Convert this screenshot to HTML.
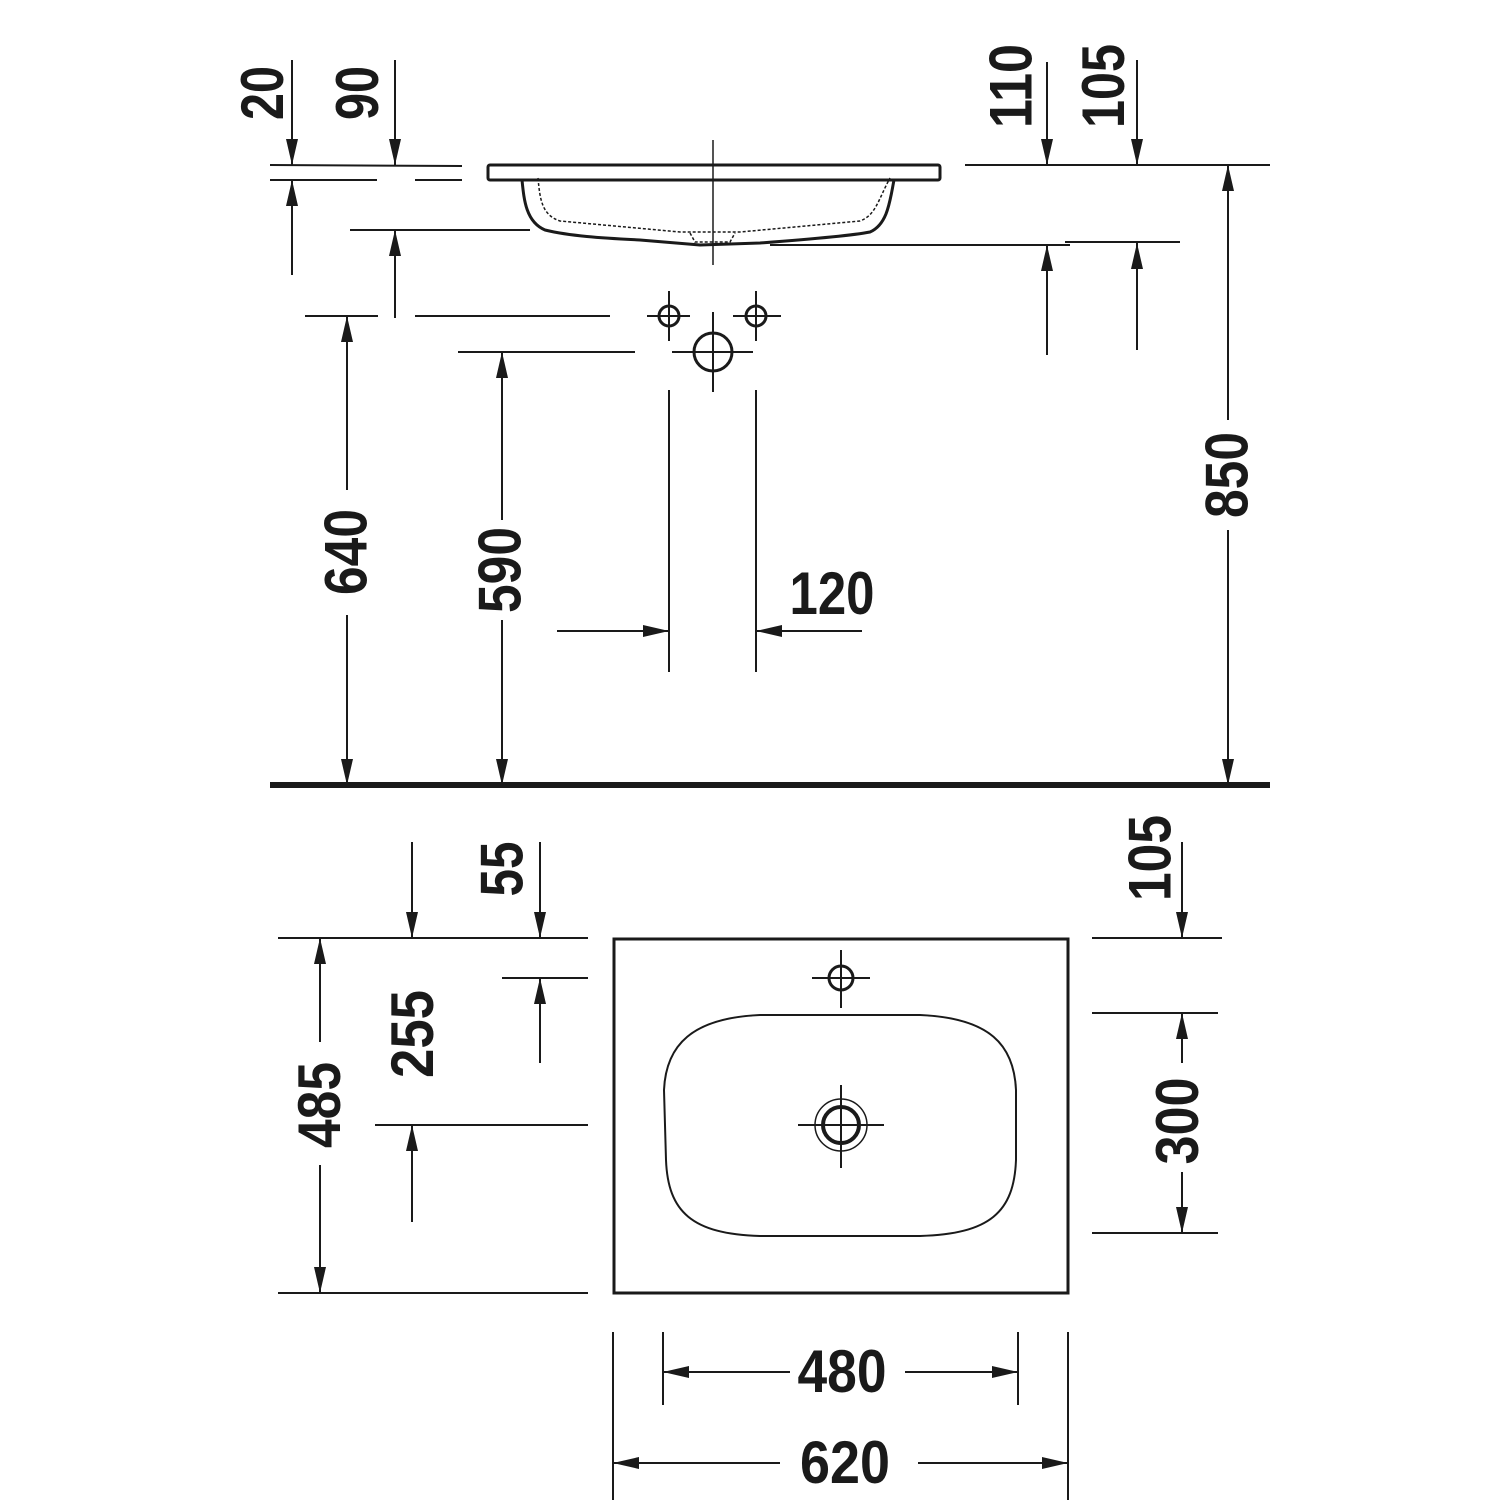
<!DOCTYPE html>
<html><head><meta charset="utf-8"><style>html,body{margin:0;padding:0;background:#fff}svg{display:block}</style></head><body>
<svg width="1500" height="1500" viewBox="0 0 1500 1500" xmlns="http://www.w3.org/2000/svg">
<defs>
<marker id="a" viewBox="0 0 26 12" refX="26" refY="6" markerWidth="26" markerHeight="12" markerUnits="userSpaceOnUse" orient="auto"><path d="M0,0 L26,6 L0,12 Z" fill="#1a1a1a"/></marker>
</defs>
<g stroke="#1a1a1a" stroke-width="2" fill="none">
<!-- top view sink -->
<rect x="488" y="165" width="452" height="15" rx="2" stroke-width="3"/>
<path d="M522 180 C524 200 526 222 545 230 C570 236 600 238 640 240 L700 245 L760 243 C800 240 850 236 870 232 C888 224 890 200 894 180" stroke-width="3"/>
<path d="M538 178 C540 200 542 215 560 221 L680 232 L740 232 L860 221 C876 215 878 200 890 178" stroke-width="1.5" stroke-dasharray="3,2"/>
<path d="M690 233 L695 242 L730 242 L735 233" stroke-width="1.5" stroke-dasharray="3,2"/>
<line x1="713" y1="140" x2="713" y2="265" stroke-width="1.5"/>
<!-- extension lines top -->
<line x1="270" y1="165" x2="462" y2="166"/>
<line x1="270" y1="180" x2="377" y2="180"/>
<line x1="415" y1="180" x2="462" y2="180"/>
<line x1="350" y1="230" x2="530" y2="230"/>
<line x1="965" y1="165" x2="1270" y2="165"/>
<line x1="770" y1="245" x2="1070" y2="245"/>
<line x1="1065" y1="242" x2="1180" y2="242"/>
<line x1="305" y1="316" x2="378" y2="316"/>
<line x1="415" y1="316" x2="610" y2="316"/>
<line x1="458" y1="352" x2="635" y2="352"/>
<!-- arrows top -->
<line x1="292" y1="60" x2="292" y2="165" marker-end="url(#a)"/>
<line x1="292" y1="275" x2="292" y2="180" marker-end="url(#a)"/>
<line x1="395" y1="60" x2="395" y2="165" marker-end="url(#a)"/>
<line x1="395" y1="318" x2="395" y2="230" marker-end="url(#a)"/>
<line x1="1047" y1="62" x2="1047" y2="165" marker-end="url(#a)"/>
<line x1="1047" y1="355" x2="1047" y2="245" marker-end="url(#a)"/>
<line x1="1137" y1="60" x2="1137" y2="165" marker-end="url(#a)"/>
<line x1="1137" y1="350" x2="1137" y2="243" marker-end="url(#a)"/>
<!-- taps -->
<circle cx="669" cy="316" r="10" stroke-width="3"/>
<line x1="647" y1="316" x2="690" y2="316"/><line x1="669" y1="291" x2="669" y2="341"/>
<circle cx="756" cy="316" r="10" stroke-width="3"/>
<line x1="733" y1="316" x2="781" y2="316"/><line x1="756" y1="291" x2="756" y2="341"/>
<circle cx="713" cy="352" r="19" stroke-width="3"/>
<line x1="672" y1="352" x2="753" y2="352"/><line x1="713" y1="312" x2="713" y2="392"/>
<!-- 640/590/850 -->
<line x1="347" y1="490" x2="347" y2="316" marker-end="url(#a)"/>
<line x1="347" y1="615" x2="347" y2="785" marker-end="url(#a)"/>
<line x1="502" y1="520" x2="502" y2="352" marker-end="url(#a)"/>
<line x1="502" y1="620" x2="502" y2="785" marker-end="url(#a)"/>
<line x1="1228" y1="420" x2="1228" y2="165" marker-end="url(#a)"/>
<line x1="1228" y1="530" x2="1228" y2="785" marker-end="url(#a)"/>
<!-- 120 -->
<line x1="669" y1="390" x2="669" y2="672"/>
<line x1="756" y1="390" x2="756" y2="672"/>
<line x1="557" y1="631" x2="669" y2="631" marker-end="url(#a)"/>
<line x1="862" y1="631" x2="756" y2="631" marker-end="url(#a)"/>
<line x1="270" y1="785" x2="1270" y2="785" stroke-width="6"/>
<!-- bottom view -->
<rect x="614" y="939" width="454" height="354" stroke-width="3"/>
<path d="M760 1015 L920 1015 C990 1018 1014 1045 1016 1090 L1016 1160 C1014 1212 990 1234 920 1236 L760 1236 C692 1234 668 1212 666 1160 L664 1090 C666 1045 692 1018 760 1015 Z" stroke-width="2"/>
<circle cx="841" cy="978" r="12" stroke-width="3"/>
<line x1="812" y1="978" x2="870" y2="978"/><line x1="841" y1="950" x2="841" y2="1008"/>
<circle cx="841" cy="1125" r="26" stroke-width="1.5"/>
<circle cx="841" cy="1125" r="18" stroke-width="4"/>
<line x1="798" y1="1125" x2="884" y2="1125"/><line x1="841" y1="1085" x2="841" y2="1168"/>
<line x1="278" y1="938" x2="588" y2="938"/>
<line x1="502" y1="978" x2="588" y2="978"/>
<line x1="375" y1="1125" x2="588" y2="1125"/>
<line x1="278" y1="1293" x2="588" y2="1293"/>
<line x1="320" y1="1042" x2="320" y2="938" marker-end="url(#a)"/>
<line x1="320" y1="1165" x2="320" y2="1293" marker-end="url(#a)"/>
<line x1="412" y1="842" x2="412" y2="938" marker-end="url(#a)"/>
<line x1="412" y1="1222" x2="412" y2="1125" marker-end="url(#a)"/>
<line x1="540" y1="842" x2="540" y2="938" marker-end="url(#a)"/>
<line x1="540" y1="1063" x2="540" y2="978" marker-end="url(#a)"/>
<line x1="1092" y1="938" x2="1222" y2="938"/>
<line x1="1092" y1="1013" x2="1218" y2="1013"/>
<line x1="1092" y1="1233" x2="1218" y2="1233"/>
<line x1="1182" y1="842" x2="1182" y2="938" marker-end="url(#a)"/>
<line x1="1182" y1="1063" x2="1182" y2="1013" marker-end="url(#a)"/>
<line x1="1182" y1="1172" x2="1182" y2="1233" marker-end="url(#a)"/>
<line x1="663" y1="1332" x2="663" y2="1405"/>
<line x1="1018" y1="1332" x2="1018" y2="1405"/>
<line x1="613" y1="1332" x2="613" y2="1500"/>
<line x1="1068" y1="1332" x2="1068" y2="1500"/>
<line x1="790" y1="1372" x2="663" y2="1372" marker-end="url(#a)"/>
<line x1="905" y1="1372" x2="1018" y2="1372" marker-end="url(#a)"/>
<line x1="780" y1="1463" x2="613" y2="1463" marker-end="url(#a)"/>
<line x1="918" y1="1463" x2="1068" y2="1463" marker-end="url(#a)"/>
</g>
<g fill="#1a1a1a" font-family="'Liberation Sans Narrow','Liberation Sans',sans-serif" font-weight="bold" font-size="60" text-anchor="middle">
<text transform="translate(261.5,93) rotate(-90)" y="21.5" textLength="54" lengthAdjust="spacingAndGlyphs">20</text>
<text transform="translate(356.5,93) rotate(-90)" y="21.5" textLength="54" lengthAdjust="spacingAndGlyphs">90</text>
<text transform="translate(1010,86) rotate(-90)" y="21.5" textLength="84" lengthAdjust="spacingAndGlyphs">110</text>
<text transform="translate(1102.5,86) rotate(-90)" y="21.5" textLength="84" lengthAdjust="spacingAndGlyphs">105</text>
<text transform="translate(1226,475) rotate(-90)" y="21.5" textLength="86" lengthAdjust="spacingAndGlyphs">850</text>
<text transform="translate(345,552) rotate(-90)" y="21.5" textLength="86" lengthAdjust="spacingAndGlyphs">640</text>
<text transform="translate(499,570) rotate(-90)" y="21.5" textLength="86" lengthAdjust="spacingAndGlyphs">590</text>
<text transform="translate(501,869) rotate(-90)" y="21.5" textLength="55" lengthAdjust="spacingAndGlyphs">55</text>
<text transform="translate(1149,858) rotate(-90)" y="21.5" textLength="86" lengthAdjust="spacingAndGlyphs">105</text>
<text transform="translate(411.5,1034) rotate(-90)" y="21.5" textLength="88" lengthAdjust="spacingAndGlyphs">255</text>
<text transform="translate(318.5,1105) rotate(-90)" y="21.5" textLength="86" lengthAdjust="spacingAndGlyphs">485</text>
<text transform="translate(1176.5,1121) rotate(-90)" y="21.5" textLength="87" lengthAdjust="spacingAndGlyphs">300</text>
<text x="832" y="614" textLength="85" lengthAdjust="spacingAndGlyphs">120</text>
<text x="842" y="1392" textLength="89" lengthAdjust="spacingAndGlyphs">480</text>
<text x="845" y="1483" textLength="90" lengthAdjust="spacingAndGlyphs">620</text>
</g>
</svg>
</body></html>
